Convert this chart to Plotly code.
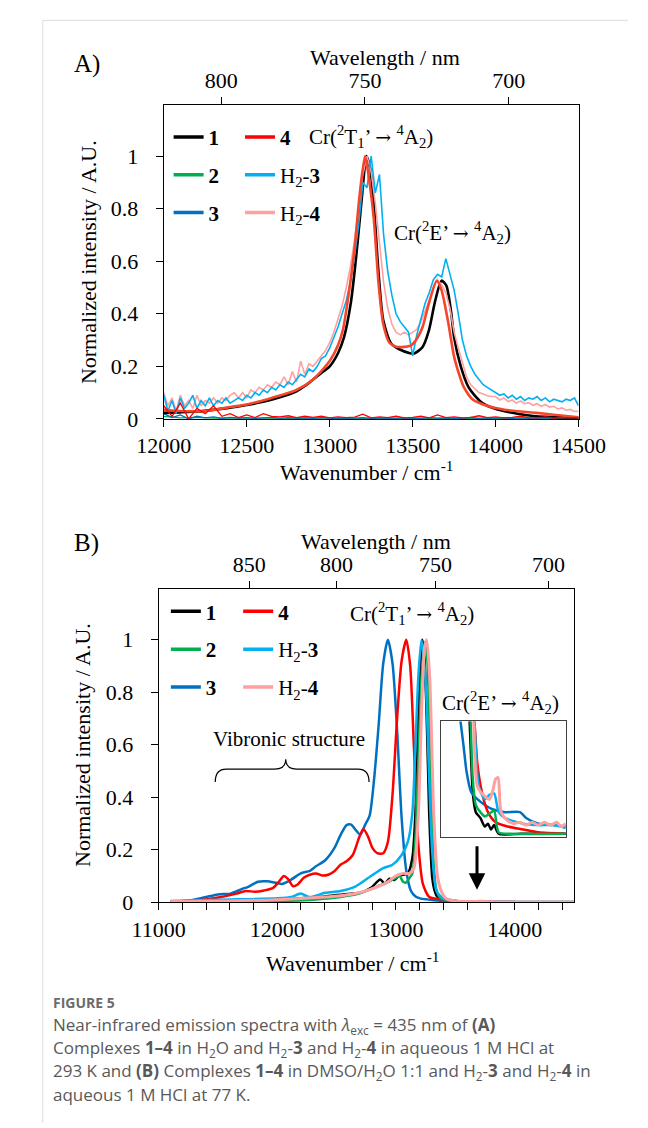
import numpy as np
import plotly.graph_objects as go

W, H = 648, 1128
SERIF = "Liberation Serif"
SANS = "Open Sans"

# colours used in the original figure
C1, C2, C3, C4 = "#000000", "#00B050", "#0070C0", "#FF0000"
CH3, CH4 = "#00B0F0", "#FFA0A0"
CORANGE = "#F5452A"

# ---------------- panel A : 293 K ----------------
# sampling grids of the spectra
wn_a25 = np.arange(12000, 14501, 25)
wn_a50 = np.arange(12000, 14501, 50)
wn_a100 = np.arange(12000, 14501, 100)

a1_wn = [12000, 12100, 12200, 12300, 12400, 12500, 12600, 12700, 12800, 12850,
         12900, 12950, 13000, 13050, 13086, 13127, 13150, 13171, 13195, 13222,
         13245, 13266, 13294, 13323, 13370, 13420, 13484, 13513, 13560, 13598,
         13636, 13674, 13703, 13731, 13750, 13790, 13835, 13880, 13921, 13980,
         14054, 14150, 14244, 14350, 14500]
a1_int = [0.023, 0.025, 0.028, 0.035, 0.043, 0.053, 0.065, 0.082, 0.105, 0.125,
          0.15, 0.175, 0.2, 0.25, 0.31, 0.44, 0.56, 0.69, 0.85, 1.0,
          0.95, 0.815, 0.56, 0.375, 0.287, 0.265, 0.25, 0.25, 0.274, 0.337,
          0.45, 0.526, 0.507, 0.41, 0.31, 0.2, 0.123, 0.085, 0.06, 0.042,
          0.029, 0.018, 0.01, 0.007, 0.005]

# thick orange-red trace
a4b_wn = [12000, 12100, 12250, 12400, 12500, 12650, 12800, 12900, 13000, 13050,
          13080, 13120, 13150, 13180, 13213, 13240, 13266, 13294, 13323, 13360,
          13400, 13446, 13490, 13530, 13560, 13598, 13645, 13674, 13712, 13750,
          13780, 13807, 13864, 13959, 14054, 14150, 14244, 14350, 14500]
a4b_int = [0.035, 0.03, 0.03, 0.045, 0.055, 0.08, 0.11, 0.15, 0.22, 0.28,
           0.34, 0.5, 0.65, 0.85, 1.0, 0.9, 0.76, 0.52, 0.36, 0.29,
           0.275, 0.274, 0.28, 0.31, 0.35, 0.44, 0.526, 0.49, 0.375, 0.236,
           0.17, 0.123, 0.073, 0.048, 0.035, 0.028, 0.023, 0.016, 0.006]

aH3_int = [0.09, 0.03, 0.07, 0.02, 0.08, 0.04, 0.06, 0.09, 0.04, 0.07,
           0.05, 0.08, 0.05, 0.07, 0.06, 0.08, 0.06, 0.07, 0.08, 0.07,
           0.09, 0.08, 0.1, 0.09, 0.11, 0.1, 0.12, 0.11, 0.13, 0.12,
           0.14, 0.13, 0.15, 0.17, 0.16, 0.19, 0.18, 0.2, 0.23, 0.24,
           0.27, 0.31, 0.35, 0.4, 0.45, 0.52, 0.62, 0.74, 0.9, 0.88,
           1.0, 0.86, 0.93, 0.7, 0.56, 0.47, 0.4, 0.37, 0.35, 0.33,
           0.24, 0.32, 0.38, 0.44, 0.48, 0.53, 0.55, 0.54, 0.61, 0.55,
           0.49, 0.4, 0.3, 0.24, 0.2, 0.17, 0.15, 0.13, 0.12, 0.11,
           0.1, 0.09, 0.095, 0.08, 0.09, 0.075, 0.085, 0.07, 0.08, 0.075,
           0.085, 0.07, 0.08, 0.065, 0.075, 0.07, 0.065, 0.075, 0.07, 0.08,
           0.05]
aH4_int = [0.1, 0.05, 0.08, 0.03, 0.09, 0.05, 0.07, 0.04, 0.09, 0.05,
           0.07, 0.06, 0.08, 0.06, 0.08, 0.07, 0.09, 0.1, 0.08, 0.1,
           0.08, 0.11, 0.1, 0.12, 0.11, 0.13, 0.12, 0.14, 0.13, 0.16,
           0.13, 0.18, 0.14, 0.22, 0.17, 0.21, 0.2, 0.22, 0.24, 0.26,
           0.29, 0.33, 0.38, 0.43, 0.5, 0.58, 0.68, 0.8, 0.93, 1.0,
           0.94, 0.82, 0.68, 0.52, 0.42, 0.36, 0.33, 0.32, 0.33, 0.32,
           0.33, 0.34, 0.37, 0.41, 0.45, 0.5, 0.53, 0.51, 0.48, 0.42,
           0.33, 0.27, 0.21, 0.16, 0.13, 0.115, 0.1, 0.095, 0.088, 0.085,
           0.085, 0.072, 0.08, 0.066, 0.072, 0.06, 0.068, 0.058, 0.062, 0.052,
           0.058, 0.048, 0.055, 0.045, 0.048, 0.038, 0.042, 0.033, 0.036, 0.028,
           0.029]
a4_int = [0.05, 0.01, 0.06, 0.0, 0.04, 0.02, 0.05, 0.01, 0.02, 0.005,
          0.015, 0.005, 0.02, 0.01, 0.008, 0.012, 0.005, 0.01, 0.006, 0.01,
          0.004, 0.008, 0.005, 0.007, 0.018, 0.004, 0.008, 0.005, 0.01, 0.004,
          0.006, 0.01, 0.004, 0.015, 0.005, 0.008, 0.004, 0.006, 0.012, 0.005,
          0.008, 0.004, 0.006, 0.01, 0.005, 0.004, 0.008, 0.003, 0.006, 0.004,
          0.005]
a3_int = [0.02, 0.005, 0.015, 0.0, 0.01, 0.004, 0.008, 0.002, 0.006, 0.003,
          0.005, 0.002, 0.004, 0.006, 0.002, 0.005, 0.003, 0.004, 0.002, 0.005,
          0.003, 0.002, 0.004, 0.003, 0.005, 0.002, 0.004, 0.003, 0.002, 0.004,
          0.003, 0.002, 0.005, 0.003, 0.004, 0.002, 0.003, 0.006, 0.002, 0.004,
          0.003, 0.005, 0.002, 0.004, 0.003, 0.002, 0.004, 0.003, 0.002, 0.003,
          0.002]
a2_int = [0.01, 0.004, 0.006, 0.003, 0.004, 0.003, 0.002, 0.003, 0.002, 0.003,
          0.002, 0.003, 0.002, 0.002, 0.003, 0.002, 0.002, 0.003, 0.002, 0.002,
          0.002, 0.003, 0.002, 0.002, 0.002, 0.002]

# ---------------- panel B : 77 K ----------------
b1_wn = [11100, 11400, 11700, 12000, 12200, 12400, 12550, 12700, 12790, 12868,
         12906, 12945, 12985, 13022, 13060, 13100, 13138, 13164, 13190, 13205,
         13223, 13240, 13254, 13268, 13280, 13293, 13306, 13325, 13344, 13380,
         13424, 13460, 13493, 13544, 13595, 13629, 13663, 13698, 13749, 14000,
         14500]
b1_int = [0.001, 0.002, 0.004, 0.008, 0.015, 0.022, 0.03, 0.036, 0.055, 0.087,
          0.07, 0.09, 0.085, 0.1, 0.105, 0.11, 0.168, 0.34, 0.72, 0.9,
          1.0, 0.93, 0.78, 0.55, 0.34, 0.19, 0.093, 0.045, 0.024, 0.013,
          0.008, 0.003, 0.0017, 0.0013, 0.0007, 0.0009, 0.0005, 0.0008, 0.0002, 0.0002,
          0.0002]

b2_wn = [11100, 11600, 12000, 12300, 12533, 12687, 12790, 12868, 12919, 12997,
         13030, 13060, 13085, 13110, 13138, 13165, 13190, 13215, 13241, 13260,
         13280, 13306, 13320, 13337, 13360, 13383, 13410, 13435, 13459, 13493,
         13544, 13595, 13646, 13698, 13749, 13885, 14500]
b2_int = [0.0, 0.002, 0.005, 0.01, 0.02, 0.033, 0.05, 0.065, 0.074, 0.093,
          0.1, 0.078, 0.075, 0.09, 0.11, 0.25, 0.55, 0.85, 0.99, 0.95,
          0.72, 0.28, 0.13, 0.055, 0.025, 0.015, 0.011, 0.008, 0.004, 0.0022,
          0.0017, 0.0014, 0.0016, 0.0018, 0.0003, 0.0002, 0.0002]

b3_wn = [11100, 11300, 11400, 11500, 11605, 11700, 11760, 11837, 11914, 11992,
         12043, 12120, 12198, 12275, 12326, 12404, 12481, 12533, 12584, 12623,
         12662, 12700, 12739, 12778, 12816, 12855, 12893, 12932, 12971, 13009,
         13048, 13087, 13125, 13165, 13203, 13260, 13322, 13356, 13390, 13441,
         13510, 13595, 13680, 13817, 13988, 14056, 14193, 14363, 14500]
b3_int = [0.0, 0.01, 0.02, 0.03, 0.033, 0.05, 0.06, 0.078, 0.08, 0.074,
          0.07, 0.087, 0.11, 0.12, 0.137, 0.16, 0.206, 0.256, 0.294, 0.296,
          0.275, 0.258, 0.294, 0.33, 0.47, 0.68, 0.91, 1.0, 0.91, 0.66,
          0.32, 0.12, 0.045, 0.022, 0.015, 0.011, 0.008, 0.0063, 0.0045, 0.0031,
          0.0026, 0.0022, 0.0019, 0.0017, 0.0017, 0.0013, 0.0009, 0.0008, 0.0007]

b4_wn = [11100, 11300, 11502, 11657, 11734, 11811, 11889, 11966, 12017, 12056,
         12094, 12133, 12172, 12223, 12275, 12326, 12378, 12430, 12481, 12533,
         12584, 12636, 12687, 12726, 12765, 12803, 12842, 12893, 12932, 12971,
         13009, 13048, 13087, 13120, 13151, 13189, 13228, 13280, 13330, 13400,
         13476, 13510, 13561, 13629, 13715, 13851, 14022, 14193, 14500]
b4_int = [0.0, 0.005, 0.018, 0.033, 0.043, 0.04, 0.045, 0.055, 0.08, 0.1,
          0.087, 0.061, 0.068, 0.093, 0.105, 0.11, 0.102, 0.105, 0.118, 0.143,
          0.156, 0.18, 0.243, 0.279, 0.25, 0.206, 0.187, 0.187, 0.23, 0.41,
          0.695, 0.92, 1.0, 0.9, 0.595, 0.218, 0.068, 0.02, 0.014, 0.011,
          0.008, 0.0051, 0.0031, 0.0017, 0.001, 0.0007, 0.0005, 0.0003, 0.0002]

bH3_wn = [11100, 11500, 12000, 12120, 12198, 12275, 12404, 12533, 12662, 12790,
          12893, 12971, 13048, 13100, 13138, 13164, 13190, 13215, 13249, 13280,
          13306, 13344, 13409, 13476, 13527, 13595, 13646, 13698, 13749, 13817,
          14022, 14193, 14363, 14500]
bH3_int = [0.005, 0.01, 0.015, 0.02, 0.033, 0.02, 0.036, 0.043, 0.061, 0.1,
           0.13, 0.143, 0.18, 0.23, 0.34, 0.595, 0.87, 1.0, 0.85, 0.47,
           0.19, 0.04, 0.012, 0.008, 0.0035, 0.0026, 0.0029, 0.003, 0.0017, 0.0013,
           0.0009, 0.0008, 0.0008, 0.0006]

bH4_wn = [11100, 11600, 12000, 12400, 12533, 12687, 12790, 12919, 12997, 13061,
          13113, 13151, 13189, 13215, 13241, 13259, 13285, 13318, 13352, 13395,
          13430, 13469, 13510, 13578, 13646, 13680, 13715, 13742, 13776, 13851,
          13920, 13988, 14056, 14124, 14193, 14261, 14329, 14398, 14449, 14500]
bH4_int = [0.003, 0.005, 0.01, 0.02, 0.025, 0.036, 0.05, 0.074, 0.1, 0.11,
           0.11, 0.13, 0.34, 0.72, 0.97, 1.0, 0.85, 0.34, 0.093, 0.03,
           0.012, 0.008, 0.0035, 0.0029, 0.0026, 0.0031, 0.004, 0.0041, 0.0017, 0.0011,
           0.0009, 0.001, 0.0008, 0.001, 0.0008, 0.001, 0.0008, 0.001, 0.0007, 0.0009]

# tick labels
a_wn_ticks = [12000, 12500, 13000, 13500, 14000, 14500]
a_nm_ticks = [800, 750, 700]
b_wn_ticks = [11000, 12000, 13000, 14000]
b_nm_ticks = [850, 800, 750, 700]
y_ticks = [0, 0.2, 0.4, 0.6, 0.8, 1]
y_ticktext = ["0", "0.2", "0.4", "0.6", "0.8", "1"]

names = {"1": "<b>1</b>", "2": "<b>2</b>", "3": "<b>3</b>", "4": "<b>4</b>",
         "H3": "H<sub>2</sub>-<b>3</b>", "H4": "H<sub>2</sub>-<b>4</b>"}


def px(x):
    return x / W


def py(y):
    return 1 - y / H


fig = go.Figure()


def line(x, y, color, width, xa, ya, shape="linear"):
    fig.add_trace(go.Scatter(x=x, y=y, mode="lines", showlegend=False,
                             line=dict(color=color, width=width, shape=shape, smoothing=0.7),
                             xaxis=xa, yaxis=ya, hoverinfo="skip"))


# panel A curves
line(wn_a100, a2_int, C2, 1.3, "x", "y")
line(wn_a50, a3_int, C3, 1.3, "x", "y")
line(a1_wn, a1_int, C1, 2.6, "x", "y", "spline")
line(wn_a25, aH4_int, CH4, 1.6, "x", "y")
line(wn_a25, aH3_int, CH3, 1.6, "x", "y")
line(a4b_wn, a4b_int, CORANGE, 2.6, "x", "y", "spline")
line(wn_a50, a4_int, C4, 1.3, "x", "y")

# panel B curves and the magnified inset
for xa, ya in [("x3", "y3"), ("x5", "y5")]:
    line(b1_wn, b1_int, C1, 2.5, xa, ya, "spline")
    line(b3_wn, b3_int, C3, 2.5, xa, ya, "spline")
    line(b4_wn, b4_int, C4, 2.5, xa, ya, "spline")
    line(b2_wn, b2_int, C2, 2.5, xa, ya, "spline")
    line(bH3_wn, bH3_int, CH3, 2.5, xa, ya, "spline")
    line(bH4_wn, bH4_int, CH4, 3, xa, ya, "spline")

# empty traces so the wavelength (top) axes get drawn
for xa, ya in [("x2", "y"), ("x4", "y3")]:
    fig.add_trace(go.Scatter(x=[None], y=[None], mode="lines", showlegend=False,
                             xaxis=xa, yaxis=ya, hoverinfo="skip"))

# legend entries (two columns per panel)
cols = {"1": C1, "2": C2, "3": C3, "4": C4, "H3": CH3, "H4": CH4}
for leg, keys, xa, ya in [("legend", ["1", "2", "3"], "x", "y"),
                          ("legend2", ["4", "H3", "H4"], "x", "y"),
                          ("legend3", ["1", "2", "3"], "x3", "y3"),
                          ("legend4", ["4", "H3", "H4"], "x3", "y3")]:
    for i, k in enumerate(keys):
        fig.add_trace(go.Scatter(x=[None], y=[None], mode="lines", name=names[k],
                                 line=dict(color=cols[k], width=3.5),
                                 legend=leg, legendgroup=leg + k, legendrank=i,
                                 xaxis=xa, yaxis=ya))

tickfont = dict(family=SERIF, size=22, color="black")
ax_common = dict(showline=True, linecolor="black", linewidth=1, ticks="outside",
                 ticklen=7, tickcolor="black", showgrid=False, zeroline=False,
                 tickfont=tickfont)

A_dom_x = [px(140.7), px(594)]
A_dom_y = [py(415.7), py(98)]
B_dom_x = [px(135), px(589)]
B_dom_y = [py(904.7), py(587.3)]

legend_style = dict(xanchor="left", yanchor="top", bgcolor="rgba(0,0,0,0)",
                    font=dict(family=SERIF, size=21, color="black"),
                    tracegroupgap=7.5, traceorder="grouped")

fig.update_layout(
    width=W, height=H, margin=dict(l=0, r=0, t=0, b=0),
    paper_bgcolor="white", plot_bgcolor="white",
    xaxis=dict(domain=A_dom_x, anchor="y", range=[12000, 14500], tickvals=a_wn_ticks,
               tickformat="d", **ax_common),
    yaxis=dict(domain=A_dom_y, anchor="x", range=[0, 1.195], tickvals=y_ticks,
               ticktext=y_ticktext, mirror=True, ticklabelstandoff=13, **ax_common),
    xaxis2=dict(overlaying="x", anchor="y", side="top", range=[820, 675.7],
                tickvals=a_nm_ticks, tickformat="d", **ax_common),
    xaxis3=dict(domain=B_dom_x, anchor="y3", range=[11000, 14500], tickvals=b_wn_ticks,
                tickformat="d",
                minor=dict(dtick=200, ticks="outside", ticklen=7, tickcolor="black"),
                **ax_common),
    yaxis3=dict(domain=B_dom_y, anchor="x3", range=[0, 1.195], tickvals=y_ticks,
                ticktext=y_ticktext, mirror=True, ticklabelstandoff=13, **ax_common),
    xaxis4=dict(overlaying="x3", anchor="y3", side="top", range=[11000, 14500],
                tickvals=[1e7 / v for v in b_nm_ticks],
                ticktext=[str(v) for v in b_nm_ticks], **ax_common),
    xaxis5=dict(domain=[px(443.3), px(580)], anchor="y5", range=[13100, 14500],
                showline=True, mirror=True, linecolor="#404040", linewidth=1.2,
                showticklabels=False, ticks="", showgrid=False, zeroline=False),
    yaxis5=dict(domain=[py(838.3), py(721.7)], anchor="x5", range=[0, 0.008],
                showline=True, mirror=True, linecolor="#404040", linewidth=1.2,
                showticklabels=False, ticks="", showgrid=False, zeroline=False),
    legend=dict(x=px(146), y=py(110), **legend_style),
    legend2=dict(x=px(224), y=py(110), **legend_style),
    legend3=dict(x=px(143), y=py(590), **legend_style),
    legend4=dict(x=px(222), y=py(590), **legend_style),
)

ann = []


def text(x, y, s, size=21, xanchor="center", angle=0, family=SERIF, color="black"):
    ann.append(dict(x=px(x), y=py(y), xref="paper", yref="paper", text=s, showarrow=False,
                    xanchor=xanchor, yanchor="middle", textangle=angle,
                    font=dict(family=family, size=size, color=color)))


ARROW = "<span style='font-family:DejaVu Serif;font-size:19px'>→</span>"
T1 = f"Cr(<sup>2</sup>T<sub>1</sub>’ {ARROW} <sup>4</sup>A<sub>2</sub>)"
E = f"Cr(<sup>2</sup>E’ {ARROW} <sup>4</sup>A<sub>2</sub>)"

text(40, 57, "A)", 25, "left")
text(40, 541, "B)", 25, "left")
text(382.5, 50, "Wavelength / nm", 22)
text(372.5, 540, "Wavelength / nm", 22)
text(363, 468, "Wavenumber / cm<sup>-1</sup>", 22)
text(348, 965, "Wavenumber / cm<sup>-1</sup>", 22)
text(58, 257, "Normalized intensity / A.U.", 22, angle=-90)
text(52, 746, "Normalized intensity / A.U.", 22, angle=-90)
text(297, 130, T1, 21, "left")
text(390, 227, E, 21, "left")
text(342, 613, T1, 21, "left")
text(443, 703, E, 21, "left")
text(192, 740, "Vibronic structure", 21, "left")

# caption
text(18, 1006, "<b>FIGURE 5</b>", 14, "left", family=SANS, color="#6b6b6b")
cap = ["Near-infrared emission spectra with <i>λ</i><sub>exc</sub> = 435 nm of <b>(A)</b>",
       "Complexes <b>1–4</b> in H<sub>2</sub>O and H<sub>2</sub>-<b>3</b> and H<sub>2</sub>-<b>4</b> in aqueous 1 M HCl at",
       "293 K and <b>(B)</b> Complexes <b>1–4</b> in DMSO/H<sub>2</sub>O 1:1 and H<sub>2</sub>-<b>3</b> and H<sub>2</sub>-<b>4</b> in",
       "aqueous 1 M HCl at 77 K."]
for i, s in enumerate(cap):
    text(18, 1029 + 23.5 * i, s, 17, "left", family=SANS, color="#595959")

# arrow pointing at the magnified region
ann.append(dict(x=px(483), y=py(892), xref="paper", yref="paper", text="", showarrow=True,
                ax=0, ay=-45, arrowhead=2, arrowsize=1.1, arrowwidth=3, arrowcolor="black"))
fig.update_layout(annotations=ann)


def P(x, y):
    return f"{px(x):.5f},{py(y):.5f}"


brace = (f"M {P(197, 783)} Q {P(197, 770)} {P(209, 770)} L {P(262, 770)} "
         f"Q {P(274, 770)} {P(274, 760)} Q {P(274, 770)} {P(286, 770)} "
         f"L {P(353, 770)} Q {P(365, 770)} {P(365, 783)}")
fig.update_layout(shapes=[
    dict(type="path", path=brace, xref="paper", yref="paper", line=dict(color="black", width=1.2)),
    dict(type="line", x0=px(8.5), x1=px(8.5), y0=py(12.5), y1=0, xref="paper", yref="paper",
         line=dict(color="#dcdcdc", width=1)),
    dict(type="line", x0=px(8.5), x1=1, y0=py(12.5), y1=py(12.5), xref="paper", yref="paper",
         line=dict(color="#dcdcdc", width=1)),
])

fig.write_html("out.html")
